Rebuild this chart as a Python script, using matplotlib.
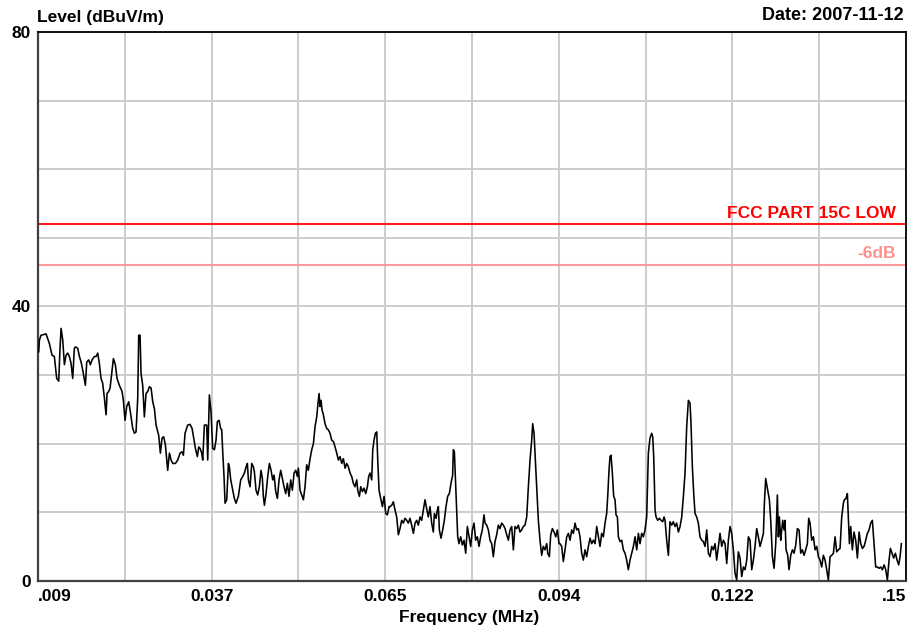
import matplotlib
matplotlib.use("Agg")
import matplotlib.pyplot as plt
import numpy as np

plt.rcParams['font.family'] = ['Liberation Sans', 'DejaVu Sans']
plt.rcParams['font.weight'] = 'bold'

# measured trace, frequency in kHz and level in dBuV/m
freq_khz = [
    9.11, 9.22, 9.49, 10.30, 10.84, 11.27, 11.65, 12.03, 12.36, 12.57, 12.74, 13.01, 13.28, 13.55,
    13.82, 14.09, 14.36, 14.63, 14.90, 15.06, 15.44, 15.72, 15.99, 16.26, 16.69, 16.91, 17.23, 17.50,
    17.77, 18.15, 18.42, 18.69, 18.96, 19.23, 19.50, 19.78, 20.05, 20.21, 20.48, 20.70, 21.02, 21.24,
    21.56, 21.83, 22.21, 22.65, 22.86, 23.13, 23.40, 23.73, 24.00, 24.38, 24.65, 24.92, 25.19, 25.35,
    25.57, 25.73, 26.00, 26.27, 26.54, 26.82, 27.09, 27.36, 27.63, 27.90, 28.17, 28.60, 28.87, 29.14,
    29.41, 29.69, 30.06, 30.34, 30.61, 30.88, 31.31, 31.69, 32.07, 32.39, 32.61, 32.88, 33.31, 33.69,
    34.02, 34.29, 34.56, 34.88, 35.10, 35.32, 35.59, 35.75, 36.02, 36.40, 36.56, 36.83, 37.10, 37.37,
    37.65,
    37.91, 38.13, 38.40, 38.67, 38.84, 39.00, 39.21, 39.38, 39.65, 39.92, 40.08, 40.30, 40.62, 40.89,
    41.16, 41.54, 41.92, 42.25, 42.52, 42.79, 43.00, 43.17, 43.44, 43.71, 43.98, 44.14, 44.41, 44.68,
    44.95, 45.22, 45.44, 45.60, 45.77, 46.04, 46.31, 46.58, 46.85, 47.12, 47.34, 47.61, 47.88, 48.15,
    48.42, 48.74, 48.96, 49.23, 49.50, 49.77, 50.04, 50.31, 50.59, 50.86, 51.13, 51.29, 51.56, 51.83,
    52.10, 52.37, 52.64, 52.91, 53.19, 53.46, 53.73, 54.00, 54.27, 54.48, 54.65, 54.81, 54.97, 55.13,
    55.35, 55.62, 55.89, 56.16, 56.43, 56.70, 56.98, 57.25, 57.52, 57.79, 58.06, 58.33, 58.60, 58.87,
    59.14, 59.41, 59.68, 59.95, 60.22, 60.49, 60.77, 60.93, 61.20, 61.42, 61.69, 61.96, 62.23, 62.50,
    62.71, 62.93, 63.20, 63.37, 63.58, 63.80, 64.02, 64.18, 64.39, 64.66, 64.94, 65.21, 65.48, 65.75,
    66.02,
    66.17, 66.45, 66.72, 66.99, 67.26, 67.53, 67.80, 68.07, 68.34, 68.61, 68.88, 69.15, 69.42, 69.69,
    69.97, 70.24, 70.51, 70.78, 71.05, 71.32, 71.59, 71.86, 72.13, 72.40, 72.67, 72.94, 73.21, 73.38,
    73.65, 73.86, 74.03, 74.19, 74.46, 74.73, 75.00, 75.27, 75.54, 75.81, 76.08, 76.35, 76.46, 76.63,
    76.79, 77.00, 77.17, 77.38, 77.65, 77.93, 78.20, 78.47, 78.74, 79.01, 79.28, 79.55, 79.82, 80.09,
    80.36, 80.63, 80.90, 81.17, 81.44, 81.61, 81.88, 82.15, 82.42, 82.69, 82.96, 83.23, 83.50, 83.77,
    84.04, 84.31, 84.59, 84.86, 85.13, 85.40, 85.67, 85.94, 86.21, 86.48, 86.75, 87.02, 87.29, 87.56,
    87.83, 88.10, 88.38, 88.65, 88.92, 89.19, 89.35, 89.57, 89.73, 90.00, 90.27, 90.54, 90.81, 91.08,
    91.35, 91.63, 91.79, 92.06, 92.28, 92.55, 92.82, 93.09, 93.36, 93.63,
    93.79, 94.06, 94.33, 94.60, 94.88, 95.15, 95.42, 95.69, 95.96, 96.23, 96.50, 96.77, 97.04, 97.31,
    97.58, 97.85, 98.12, 98.40, 98.67, 98.94, 99.21, 99.48, 99.75, 100.02, 100.29, 100.56, 100.83,
    101.10, 101.37, 101.54, 101.75, 101.91, 102.08, 102.29, 102.51, 102.73, 102.89, 103.11, 103.27,
    103.54, 103.81, 104.08, 104.35, 104.62, 104.89, 105.16, 105.43, 105.71, 105.98, 106.25, 106.52,
    106.79, 107.06, 107.33, 107.60, 107.87, 108.14, 108.41, 108.68, 108.85, 109.01, 109.23, 109.39,
    109.66, 109.93, 110.20, 110.47, 110.69, 110.85, 111.12, 111.39, 111.66, 111.93, 112.20, 112.47,
    112.74, 113.02, 113.29, 113.56, 113.83, 114.10, 114.37, 114.64, 114.91, 115.07, 115.29, 115.51,
    115.72, 115.99, 116.26, 116.53, 116.81, 117.08, 117.35, 117.62, 117.89, 118.16, 118.43, 118.70,
    118.97, 119.24, 119.51, 119.78, 120.06, 120.33, 120.60, 120.87, 121.14, 121.41, 121.68, 121.95,
    122.22,
    122.49, 122.76, 123.03, 123.31, 123.58, 123.85, 124.12, 124.39, 124.66, 124.93, 125.20, 125.47,
    125.74, 126.01, 126.28, 126.55, 126.83, 126.99, 127.20, 127.37, 127.64, 127.80, 128.02, 128.29,
    128.56, 128.83, 129.10, 129.26, 129.42, 129.64, 129.80, 129.97, 130.18, 130.34, 130.51, 130.78,
    130.99, 131.27, 131.54, 131.81, 132.08, 132.35, 132.62, 132.89, 133.16, 133.43, 133.70, 133.97,
    134.19, 134.41, 134.68, 134.95, 135.22, 135.49, 135.76, 136.03, 136.30, 136.57, 136.84, 137.11,
    137.38, 137.66, 137.93, 138.20, 138.47, 138.74, 139.01, 139.28, 139.55, 139.82, 139.98, 140.25,
    140.47, 140.63, 140.80, 141.01, 141.28, 141.55, 141.82, 142.10, 142.37, 142.64, 142.91, 143.18,
    143.45, 143.72, 143.99, 144.26, 144.53, 144.80, 145.07, 145.34, 145.61, 145.89, 146.16, 146.43,
    146.70, 146.97, 147.24, 147.46, 147.73, 147.99, 148.27, 148.54, 148.81, 149.03, 149.24,
]
level_db = [
    33.4, 35.1, 35.8, 36.0, 34.6, 32.9, 32.7, 29.5, 29.1, 33.9, 36.8, 35.1, 31.5, 32.9,
    33.2, 32.7, 31.7, 29.5, 33.9, 34.1, 33.9, 32.7, 31.9, 30.7, 28.5, 31.9, 32.2, 31.5,
    32.2, 32.7, 32.7, 33.2, 31.7, 29.5, 28.8, 26.6, 24.2, 27.3, 27.6, 28.1, 30.7, 32.4,
    31.5, 29.5, 28.5, 27.6, 26.3, 23.4, 25.4, 26.1, 24.6, 22.2, 21.5, 21.7, 26.6, 35.8,
    35.8, 30.2, 28.5, 23.9, 27.3, 27.6, 28.3, 28.1, 26.1, 25.1, 22.7, 21.2, 18.6, 20.8,
    21.0, 19.8, 16.1, 18.6, 17.6, 17.1, 17.1, 17.6, 18.6, 18.8, 18.3, 21.5, 22.7, 22.8,
    22.2, 20.8, 19.3, 18.1, 19.5, 19.3, 18.6, 17.6, 22.7, 22.7, 17.6, 27.1, 24.6, 19.3,
    19.1,
    20.5, 23.2, 23.4, 22.2, 22.0, 18.8, 15.2, 11.3, 11.8, 17.1, 16.6, 14.7, 13.2, 12.0,
    11.3, 12.3, 14.7, 15.2, 15.7, 16.6, 17.1, 14.7, 13.7, 17.1, 16.6, 15.9, 13.2, 12.5,
    13.7, 16.1, 14.9, 12.3, 11.0, 12.7, 15.2, 17.1, 16.1, 14.7, 15.4, 13.0, 12.0, 14.7,
    16.1, 14.7, 13.7, 12.7, 14.2, 12.3, 14.7, 13.2, 15.7, 16.1, 15.2, 16.4, 13.2, 12.5,
    11.8, 13.7, 16.9, 16.1, 17.8, 19.1, 20.0, 22.5, 23.9, 25.9, 27.3, 25.4, 26.3, 24.9,
    24.2, 22.9, 22.2, 22.0, 21.5, 20.5, 20.3, 19.5, 18.6, 17.6, 18.1, 17.1, 17.8, 16.4,
    17.1, 16.6, 15.7, 15.2, 14.2, 13.7, 14.7, 13.2, 12.3, 13.7, 13.0, 13.5, 12.7, 13.7,
    15.2, 15.7, 14.7, 19.1, 20.5, 21.5, 21.7, 17.6, 13.2, 12.0, 10.8, 12.3, 9.8, 9.6,
    10.8,
    10.8, 11.0, 11.5, 10.3, 9.3, 6.7, 7.6, 8.8, 8.4, 9.1, 8.8, 8.4, 9.1, 8.1,
    6.9, 8.4, 8.8, 8.1, 9.3, 8.8, 10.3, 11.8, 10.5, 9.3, 10.8, 8.4, 7.1, 9.8,
    9.1, 10.3, 10.8, 7.4, 6.2, 7.4, 8.8, 10.8, 12.3, 12.7, 14.2, 15.4, 19.1, 18.8,
    15.2, 10.3, 6.4, 5.4, 6.4, 5.2, 5.9, 4.0, 7.9, 6.4, 5.0, 7.4, 8.4, 5.9,
    6.4, 5.0, 6.4, 7.4, 9.6, 8.4, 8.1, 7.4, 5.9, 5.4, 3.5, 5.7, 6.7, 8.1,
    7.6, 8.4, 8.1, 7.6, 6.7, 5.9, 7.4, 7.9, 4.5, 7.9, 7.6, 8.1, 7.1, 7.4,
    7.9, 8.1, 9.3, 13.7, 17.6, 20.5, 22.9, 21.5, 18.6, 13.7, 8.8, 5.9, 3.7, 5.0,
    4.5, 5.4, 4.0, 3.5, 6.7, 7.6, 7.1, 6.4, 7.4, 5.4,
    5.4, 5.0, 2.8, 4.5, 6.4, 6.9, 5.9, 7.4, 6.9, 8.4, 7.4, 7.6, 6.4, 4.0,
    3.0, 4.5, 3.5, 5.0, 6.2, 5.4, 5.9, 5.4, 7.9, 6.4, 5.0, 6.9, 6.4,
    8.4, 9.8, 12.3, 16.1, 18.1, 18.3, 15.7, 12.3, 11.8, 9.6, 9.3, 6.4,
    5.7, 5.9, 4.5, 4.0, 3.0, 1.6, 3.0, 4.0, 5.0, 6.4, 4.5, 6.9,
    5.4, 6.9, 6.4, 7.4, 9.3, 18.6, 20.8, 21.5, 21.0, 18.1, 10.3, 9.3,
    8.8, 9.1, 8.8, 8.6, 9.3, 8.8, 5.9, 3.7, 8.6, 8.1, 8.6, 7.9,
    8.4, 7.1, 7.9, 9.3, 12.3, 15.7, 22.5, 26.3, 25.9, 22.9, 16.6, 12.7,
    9.8, 9.3, 8.4, 6.4, 5.9, 5.7, 5.0, 7.4, 4.0, 3.5, 5.0, 4.5,
    5.4, 3.0, 5.0, 6.9, 5.0, 5.9, 5.4, 2.5, 5.9, 7.9, 6.9, 4.5,
    1.1,
    0.1, 4.2, 3.3, 0.6, 2.0, 1.6, 3.0, 6.4, 5.9, 1.6, 3.0, 5.0,
    7.6, 6.4, 5.0, 5.9, 6.9, 11.3, 14.9, 14.0, 12.5, 11.8, 8.8, 3.5,
    1.8, 5.4, 12.5, 6.4, 9.3, 5.9, 7.4, 8.8, 7.4, 8.8, 4.5, 3.7,
    1.6, 3.7, 4.5, 4.0, 5.2, 7.6, 7.4, 4.0, 4.5, 3.7, 4.5, 5.4,
    9.1, 8.4, 5.9, 6.4, 4.5, 5.0, 3.5, 3.0, 2.0, 3.7, 3.0, 1.6,
    0.1, 3.5, 3.7, 4.0, 6.4, 4.2, 4.5, 4.7, 9.3, 11.3, 11.8, 12.0,
    12.7, 9.3, 5.4, 7.9, 4.5, 7.1, 5.9, 3.3, 7.1, 5.4, 4.7, 5.0,
    5.9, 6.9, 7.4, 8.4, 8.8, 5.4, 2.0, 2.0, 1.8, 2.0, 1.6, 2.3,
    1.6, 0.1, 3.0, 4.7, 4.0, 3.3, 4.0, 3.0, 2.3, 3.5, 5.4,
]

limit_db = 52.0
margin_db = 46.0
limit_label = 'FCC PART 15C LOW'
margin_label = '-6dB'

x_grid = [0.009, 0.0231, 0.0372, 0.0513, 0.0654, 0.0795, 0.0936, 0.1077, 0.1218, 0.1359, 0.15]
x_labels = ['.009', '', '0.037', '', '0.065', '', '0.094', '', '0.122', '', '.15']
y_grid = [0, 10, 20, 30, 40, 50, 60, 70, 80]
y_labels = ['0', '', '', '', '40', '', '', '', '80']

freq_mhz = np.array(freq_khz) / 1000.0

fig = plt.figure(figsize=(9.19, 6.30), dpi=100)
ax = fig.add_axes([0.0414, 0.0783, 0.9445, 0.8705])

ax.set_xlim(0.009, 0.15)
ax.set_ylim(0, 80)
ax.set_xticks(x_grid)
ax.set_xticklabels(x_labels)
ax.set_yticks(y_grid)
ax.set_yticklabels(y_labels)
ax.tick_params(length=0, labelsize=12.5)
ax.tick_params(axis='x', pad=6)
ax.tick_params(axis='y', pad=5)
xl = ax.get_xticklabels()
xl[0].set_horizontalalignment('left')
xl[-1].set_horizontalalignment('right')

ax.grid(True, color='#cccccc', linewidth=1.4)
ax.set_axisbelow(True)

for side in ['left', 'bottom']:
    ax.spines[side].set_color('#404040')
    ax.spines[side].set_linewidth(1.6)
for side in ['top', 'right']:
    ax.spines[side].set_color('black')
    ax.spines[side].set_linewidth(1.3)

# limit lines
ax.axhline(limit_db, color='#ff1a1a', linewidth=1.5, zorder=2)
ax.axhline(margin_db, color='#ff9a9a', linewidth=1.5, zorder=2)
ax.text(0.1484, limit_db + 1.6, limit_label, color='#ff0000', fontsize=12.5,
        fontweight='bold', ha='right', va='center')
ax.text(0.1484, margin_db + 1.7, margin_label, color='#ff9090', fontsize=12.5,
        fontweight='bold', ha='right', va='center')

ax.plot(freq_mhz, level_db, color='black', linewidth=1.15, zorder=3, clip_on=True)

fig.text(0.0403, 0.973, 'Level (dBuV/m)', fontsize=12.5, fontweight='bold',
         ha='left', va='center')
fig.text(0.9837, 0.976, 'Date: 2007-11-12', fontsize=13, fontweight='bold',
         ha='right', va='center')
fig.text(0.510, 0.020, 'Frequency (MHz)', fontsize=12.5, fontweight='bold',
         ha='center', va='center')

fig.savefig('out.png', dpi=100)
